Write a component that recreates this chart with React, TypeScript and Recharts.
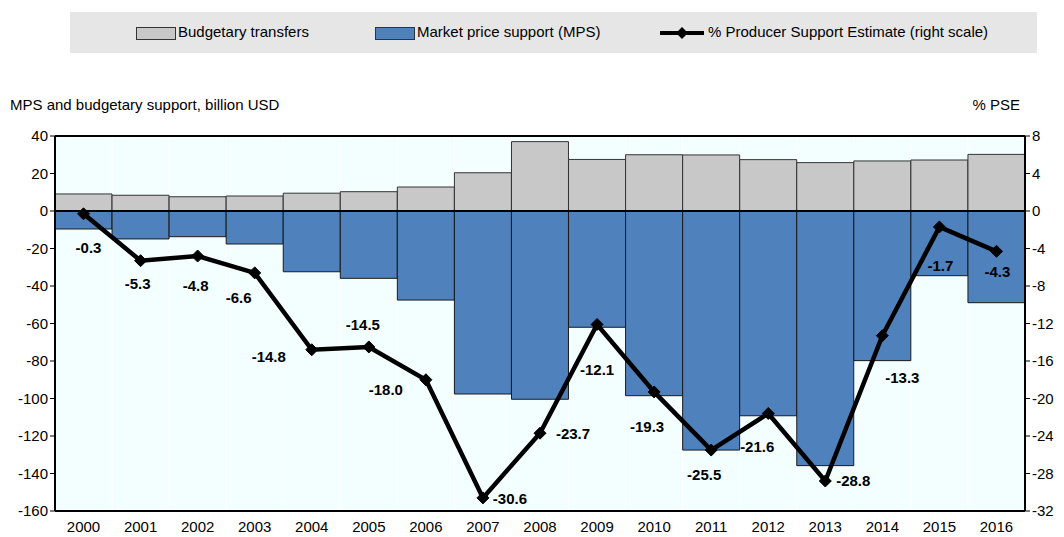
import {
  ComposedChart,
  Bar,
  Line,
  XAxis,
  YAxis,
  CartesianGrid,
  ReferenceLine,
  LabelList,
} from "recharts"

const years = [
  "2000", "2001", "2002", "2003", "2004", "2005", "2006", "2007", "2008",
  "2009", "2010", "2011", "2012", "2013", "2014", "2015", "2016",
]
const budgetaryTransfers = [
  9.1, 8.4, 7.6, 8.0, 9.5, 10.3, 12.8, 20.4, 37.0, 27.5, 30.0, 29.9, 27.4, 25.8, 26.7, 27.2, 30.2,
]
const marketPriceSupport = [
  -9.6, -14.9, -13.7, -17.6, -32.4, -35.9, -47.5, -97.6, -100.4, -62.0, -98.5, -127.5, -109.2,
  -135.8, -79.8, -34.5, -48.9,
]
const pseShare = [
  -0.3, -5.3, -4.8, -6.6, -14.8, -14.5, -18.0, -30.6, -23.7, -12.1, -19.3, -25.5, -21.6, -28.8,
  -13.3, -1.7, -4.3,
]
const leftTicks = [40, 20, 0, -20, -40, -60, -80, -100, -120, -140, -160]
const rightTicks = [8, 4, 0, -4, -8, -12, -16, -20, -24, -28, -32]

// label nudges (px) for each % PSE point, so labels dodge the line
const labelNudge: [number, number][] = [
  [5, 35], [-3, 24], [-2, 31], [-16, 26], [-43, 8], [-6, -21], [-40, 11], [27, 2], [33, 2],
  [0, 47], [-7, 36], [-7, 26], [-11, 35], [28, 1], [20, 43], [1, 40], [1, 22],
]

const data = years.map((year, i) => ({
  year,
  budgetary: budgetaryTransfers[i],
  mps: marketPriceSupport[i],
  pse: pseShare[i],
}))

const FONT = "'Liberation Sans Narrow', 'Arial Narrow', 'Liberation Sans', Arial, sans-serif"

function Diamond(props: any) {
  const { cx, cy } = props
  if (cx == null || cy == null) return null
  const s = 6
  return (
    <polygon
      points={`${cx},${cy - s} ${cx + s},${cy} ${cx},${cy + s} ${cx - s},${cy}`}
      fill="#000"
      stroke="#000"
    />
  )
}

function PseLabel(props: any) {
  const { x, y, value, index } = props
  const [dx, dy] = labelNudge[index]
  return (
    <text
      x={x + dx}
      y={y + dy}
      textAnchor="middle"
      dominantBaseline="middle"
      fontFamily={FONT}
      fontSize={15}
      fontWeight="bold"
      fill="#000"
    >
      {Number(value).toFixed(1)}
    </text>
  )
}

function LegendBox() {
  return (
    <div
      style={{
        position: "absolute",
        left: 70,
        top: 12,
        width: 967,
        height: 41,
        background: "#e6e6e6",
        fontFamily: FONT,
        fontSize: 15,
        color: "#000",
      }}
    >
      <div style={{ position: "absolute", left: 66, top: 15, width: 38, height: 11, background: "#c8c8c8", border: "1px solid #333" }} />
      <span style={{ position: "absolute", left: 108, top: 11 }}>Budgetary transfers</span>
      <div style={{ position: "absolute", left: 305, top: 15, width: 38, height: 11, background: "#4f81bd", border: "1px solid #333" }} />
      <span style={{ position: "absolute", left: 347, top: 11 }}>Market price support (MPS)</span>
      <svg style={{ position: "absolute", left: 588, top: 12 }} width={48} height={18}>
        <line x1={2} y1={9} x2={46} y2={9} stroke="#000" strokeWidth={4} />
        <polygon points="24,3 30,9 24,15 18,9" fill="#000" />
      </svg>
      <span style={{ position: "absolute", left: 638, top: 11 }}>% Producer Support Estimate (right scale)</span>
    </div>
  )
}

export default function App() {
  return (
    <div style={{ position: "relative", width: 1064, height: 537, background: "#fff" }}>
      <style>{`body{margin:0}`}</style>
      <LegendBox />
      <div style={{ position: "absolute", left: 10, top: 96, fontFamily: FONT, fontSize: 15 }}>
        MPS and budgetary support, billion USD
      </div>
      <div style={{ position: "absolute", right: 44, top: 96, fontFamily: FONT, fontSize: 15 }}>
        % PSE
      </div>
      <ComposedChart
        width={1064}
        height={537}
        data={data}
        stackOffset="sign"
        barCategoryGap={0}
        margin={{ top: 136, right: 0, left: 0, bottom: 0 }}
        style={{ position: "absolute", left: 0, top: 0 }}
      >
        <CartesianGrid
          stroke="#ffffff"
          strokeWidth={1}
          fill="#f3fefe"
          verticalCoordinatesGenerator={({ offset }: any) =>
            years.map((_, i) => offset.left + (offset.width / years.length) * i)
          }
        />
        <XAxis
          dataKey="year"
          axisLine={{ stroke: "#000", strokeWidth: 2 }}
          tickLine={false}
          height={26}
          tick={{ fill: "#000", fontSize: 15, fontFamily: FONT }}
          tickMargin={4}
        />
        <YAxis
          yAxisId="left"
          domain={[-160, 40]}
          ticks={leftTicks}
          width={55}
          interval={0}
          axisLine={{ stroke: "#000", strokeWidth: 2 }}
          tickLine={{ stroke: "#000" }}
          tickSize={5}
          tick={{ fill: "#000", fontSize: 15, fontFamily: FONT }}
        />
        <YAxis
          yAxisId="right"
          orientation="right"
          domain={[-32, 8]}
          ticks={rightTicks}
          width={39}
          interval={0}
          axisLine={{ stroke: "#000", strokeWidth: 2 }}
          tickLine={{ stroke: "#000" }}
          tickSize={5}
          tick={{ fill: "#000", fontSize: 15, fontFamily: FONT }}
        />
        <Bar
          yAxisId="left"
          dataKey="budgetary"
          stackId="s"
          fill="#c8c8c8"
          stroke="#333"
          strokeWidth={1}
          isAnimationActive={false}
        />
        <Bar
          yAxisId="left"
          dataKey="mps"
          stackId="s"
          fill="#4f81bd"
          stroke="#1a1a1a"
          strokeWidth={1}
          isAnimationActive={false}
        />
        <ReferenceLine yAxisId="left" y={0} stroke="#000" strokeWidth={2} />
        <ReferenceLine yAxisId="left" y={40} stroke="#000" strokeWidth={2} />
        <Line
          yAxisId="right"
          dataKey="pse"
          stroke="#000"
          strokeWidth={4.5}
          dot={<Diamond />}
          activeDot={false}
          isAnimationActive={false}
        >
          <LabelList dataKey="pse" content={<PseLabel />} />
        </Line>
      </ComposedChart>
    </div>
  )
}
